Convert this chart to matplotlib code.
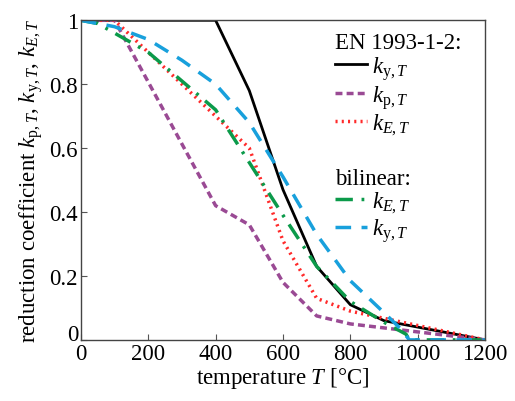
import matplotlib
matplotlib.use("Agg")
import matplotlib.pyplot as plt
from matplotlib.transforms import ScaledTranslation

plt.rcParams['font.family'] = ['Liberation Serif', 'DejaVu Serif']
plt.rcParams['mathtext.fontset'] = 'custom'
plt.rcParams['mathtext.rm'] = 'Liberation Serif'
plt.rcParams['mathtext.it'] = 'Liberation Serif:italic'
plt.rcParams['font.size'] = 16.5

# EN 1993-1-2 table values
T_ec = [20, 100, 200, 300, 400, 500, 600, 700, 800, 900, 1000, 1100, 1200]
ky_ec = [1, 1, 1, 1, 1, 0.78, 0.47, 0.23, 0.11, 0.06, 0.04, 0.02, 0]
kp_ec = [1, 1, 0.807, 0.613, 0.42, 0.36, 0.18, 0.075, 0.05, 0.0375, 0.025, 0.0125, 0]
kE_ec = [1, 1, 0.9, 0.8, 0.7, 0.6, 0.31, 0.13, 0.09, 0.0675, 0.045, 0.0225, 0]

# bilinear fits
T_bE = [0, 50, 100, 200, 300, 400, 500, 600, 700, 800, 900, 965, 975, 1200]
kE_bi = [1, 0.99, 0.96, 0.90, 0.81, 0.72, 0.555, 0.39, 0.23, 0.12, 0.055, 0.018, 0, 0]
T_by = [0, 100, 200, 300, 400, 500, 600, 700, 800, 900, 950, 975, 1200]
ky_bi = [1, 0.98, 0.94, 0.875, 0.80, 0.68, 0.51, 0.33, 0.185, 0.085, 0.034, 0, 0]

fig = plt.figure(figsize=(5.15, 4.02), dpi=100)
ax = fig.add_axes([0.157, 0.152, 0.785, 0.795])

l1, = ax.plot(T_ec, ky_ec, color='black', lw=2, label=r'$k_{\mathrm{y},T}$')
l2, = ax.plot(T_ec, kp_ec, color='#9a4a94', lw=2.5, dashes=(2, 1.2), label=r'$k_{\mathrm{p},T}$')
l3, = ax.plot(T_ec, kE_ec, color='#ff2a2a', lw=2.5, linestyle=(0, (0.6, 1.2)), label=r'$k_{E,T}$')
l4, = ax.plot(T_bE, kE_bi, color='#0b9a4a', lw=2.5, dashes=(5, 2.5, 0.8, 2.5), label=r'$k_{E,T}$')
l5, = ax.plot(T_by, ky_bi, color='#18a0dc', lw=2.5, dashes=(4.5, 3), label=r'$k_{\mathrm{y},T}$')

ax.set_xlim(0, 1200)
ax.set_ylim(0, 1)
ax.set_xticks([0, 200, 400, 600, 800, 1000, 1200])
ax.set_yticks([0, 0.2, 0.4, 0.6, 0.8, 1])
ax.set_yticklabels(['0', '0.2', '0.4', '0.6', '0.8', '1'])
ax.tick_params(direction='in', length=4, width=0.8, color='#555555', pad=2)
for s in ax.spines.values():
    s.set_color('#444444')
    s.set_linewidth(1)

# lift the y "0" so it clears the x "0"
lab0 = ax.get_yticklabels()[0]
lab0.set_transform(lab0.get_transform() + ScaledTranslation(0, 6 / 72, fig.dpi_scale_trans))

ax.set_xlabel(r'temperature $T$ [°C]', labelpad=1)
ax.set_ylabel(r'reduction coefficient $k_{\mathrm{p},T}$, $k_{\mathrm{y},T}$, $k_{E,T}$', labelpad=3)

leg1 = ax.legend(handles=[l1, l2, l3], title='EN 1993-1-2:', loc='upper left',
                 bbox_to_anchor=(0.6, 1.0), frameon=False, alignment='left',
                 handlelength=1.4, handletextpad=0.2, labelspacing=0.05, borderpad=0.2,
                 borderaxespad=0.3)
ax.add_artist(leg1)
ax.legend(handles=[l4, l5], title='bilinear:', loc='upper left',
          bbox_to_anchor=(0.6, 0.575), frameon=False, alignment='left',
          handlelength=1.4, handletextpad=0.2, labelspacing=0.05, borderpad=0.2,
          borderaxespad=0.3)

fig.savefig('out.png', dpi=100)
